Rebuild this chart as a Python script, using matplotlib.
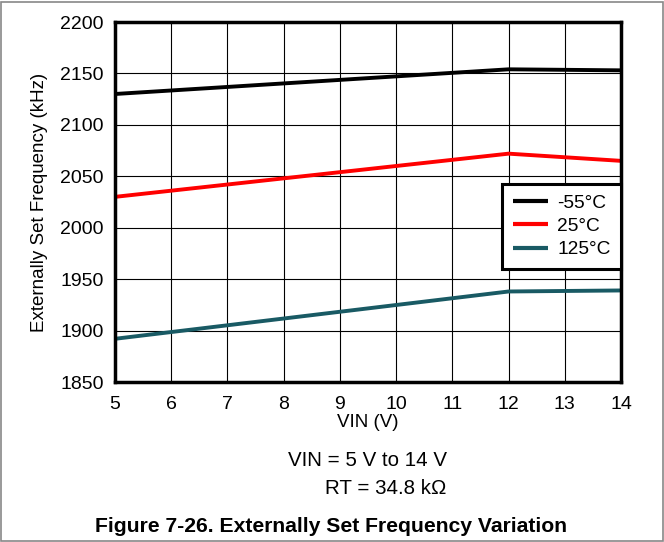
import matplotlib
matplotlib.use("Agg")
import matplotlib.pyplot as plt
from matplotlib.patches import Rectangle

plt.rcParams['font.family'] = ['Liberation Sans', 'DejaVu Sans']

vin = [5, 12, 14]
f_m55 = [2130, 2154, 2153]
f_25 = [2030, 2072, 2065]
f_125 = [1892, 1938, 1939]
labels = ["-55°C", "25°C", "125°C"]
colors = ["#000000", "#ff0000", "#195a64"]
xticks = list(range(5, 15))
yticks = list(range(1850, 2201, 50))

fig = plt.figure(figsize=(6.64, 5.42), dpi=100)
ax = fig.add_axes([115/664, 1-382/542, (621-115)/664, (382-22)/542])

for ys, lab, c in zip([f_m55, f_25, f_125], labels, colors):
    ax.plot(vin, ys, color=c, lw=2.8, label=lab, solid_capstyle='butt')

ax.set_xlim(5, 14)
ax.set_ylim(1850, 2200)
ax.set_xticks(xticks)
ax.set_yticks(yticks)
ax.grid(True, color='black', lw=0.8)
ax.tick_params(length=0, labelsize=14)
ax.tick_params(axis='x', pad=10)
ax.tick_params(axis='y', pad=8)
for s in ax.spines.values():
    s.set_linewidth(2.5)
ax.set_xlabel("VIN (V)", fontsize=13.5, labelpad=1)
ax.set_ylabel("Externally Set Frequency (kHz)", fontsize=13.5, labelpad=9)

leg = ax.legend(loc='upper right', bbox_to_anchor=(1.0, 1 - (184-22)/360), fontsize=13.8,
                frameon=True, fancybox=False, framealpha=1, edgecolor='black',
                handlelength=1.8, borderaxespad=0, labelspacing=0.3, handletextpad=0.5,
                borderpad=0.55)
leg.get_frame().set_linewidth(2.2)
for l in leg.get_lines():
    l.set_linewidth(3)

fig.text(367/664, 1-460/542, "VIN = 5 V to 14 V", ha='center', va='center', fontsize=14.8)
fig.text(386/664, 1-489/542, "RT = 34.8 kΩ", ha='center', va='center', fontsize=14.8)
fig.text(331/664, 1-527/542, "Figure 7-26. Externally Set Frequency Variation", ha='center', va='center',
         fontsize=15.2, fontweight='bold')

fig.patches.append(Rectangle((0.002, 0.002), 0.996, 0.994, transform=fig.transFigure,
                             fill=False, edgecolor='#888888', lw=1.2))

fig.savefig("out.png", dpi=100)
